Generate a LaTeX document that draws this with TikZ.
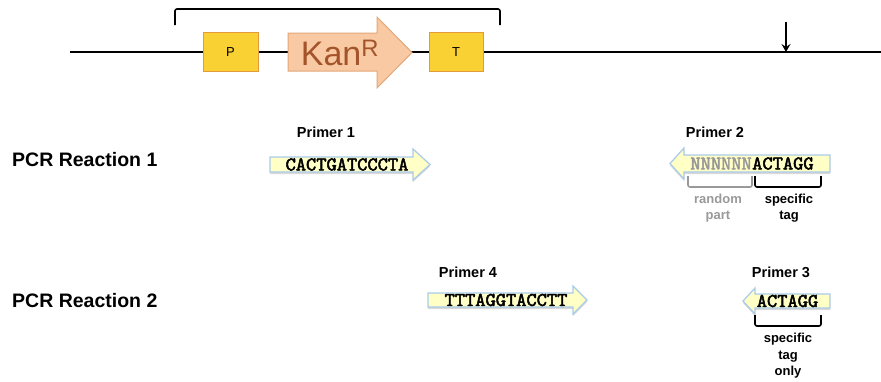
\documentclass[tikz,border=0pt]{standalone}
\usepackage{fontspec}
\setmainfont{Liberation Sans}
\newfontfamily\seqfont[FakeBold=2.5]{lmmono10-regular.otf}
\usetikzlibrary{shadows,arrows.meta}

\definecolor{partfill}{HTML}{F9D133}
\definecolor{partedge}{HTML}{E39A3C}
\definecolor{kanfill}{HTML}{F8C9A2}
\definecolor{kanedge}{HTML}{E2A77A}
\definecolor{kantext}{HTML}{A3542B}
\definecolor{primerfill}{HTML}{FFFFC6}
\definecolor{primeredge}{HTML}{A9CBEA}
\definecolor{randgray}{HTML}{999999}

\tikzset{
  part/.style={draw=partedge,fill=partfill,line width=1pt},
  primer/.style={draw=primeredge,fill=primerfill,line width=1.2pt,
    drop shadow={opacity=0.3,shadow xshift=0pt,shadow yshift=-2pt}},
  seq/.style={font=\seqfont\fontsize{19.5}{19.5}\selectfont,inner sep=0pt},
  primerlabel/.style={font=\bfseries\fontsize{14.5}{15}\selectfont,inner sep=0pt},
  reaction/.style={font=\bfseries\fontsize{19.5}{20}\selectfont,anchor=west,inner sep=0pt},
  note/.style={font=\bfseries\fontsize{13}{16.5}\selectfont,align=center,inner sep=0pt},
  tagbrace/.style={line width=1.6pt,rounded corners=2pt},
}

\begin{document}
\begin{tikzpicture}[x=1pt,y=-1pt]
  \useasboundingbox (0,0) rectangle (881,381);

  % construct
  \draw[line width=1.6pt] (70,52) -- (881,52);
  \draw[line width=1.6pt,rounded corners=2pt] (175,25) -- (175,9) -- (500,9) -- (500,25);
  \draw[line width=1.6pt,-{Stealth[length=8pt,width=9pt,inset=3pt]}] (786,22) -- (786,52);

  \draw[part] (203,32) rectangle (258,71);
  \node[font=\fontsize{13}{13}\selectfont] (prom) at (230.5,52) {P};
  \draw[part] (429,32) rectangle (483,71);
  \node[font=\fontsize{13}{13}\selectfont] (term) at (456,52) {T};

  \draw[draw=kanedge,fill=kanfill,line width=1pt]
        (288,33) -- (377,33) -- (377,17) -- (412,52.5)
        -- (377,88) -- (377,71) -- (288,71) -- cycle;
  \node[text=kantext,font=\fontsize{34}{34}\selectfont,inner sep=0pt] (kan)
        at (340,53) {Kan\textsuperscript{R}};

  % reaction labels
  \node[reaction] (pcr1) at (12,160) {PCR Reaction 1};
  \node[reaction] (pcr2) at (12,301) {PCR Reaction 2};

  % primer 1
  \node[primerlabel] (lab1) at (326,132) {Primer 1};
  \draw[primer] (270,157) -- (413,157) -- (413,149) -- (430,164.5)
        -- (413,180) -- (413,172) -- (270,172) -- cycle;
  \node[seq] (seq1) at (347,164.5) {CACTGATCCCTA};

  % primer 2
  \node[primerlabel] (lab2) at (715,132) {Primer 2};
  \draw[primer] (830,155) -- (684,155) -- (684,148) -- (670,163.5)
        -- (684,179) -- (684,172) -- (830,172) -- cycle;
  \node[seq,text=randgray,anchor=east] (rand2) at (752,163.5) {NNNNNN};
  \node[seq,anchor=west] (tag2) at (752,163.5) {ACTAGG};
  \draw[tagbrace,randgray] (688,176) -- (688,187) -- (752,187) -- (752,176);
  \draw[tagbrace] (755,176) -- (755,187) -- (821,187) -- (821,176);
  \node[note,text=randgray] (randnote) at (718,208) {random\\part};
  \node[note] (tagnote2) at (789,208) {specific\\tag};

  % primer 4
  \node[primerlabel] (lab4) at (468,272) {Primer 4};
  \draw[primer] (428,293) -- (573,293) -- (573,286) -- (587,300)
        -- (573,314) -- (573,307) -- (428,307) -- cycle;
  \node[seq] (seq4) at (506,300) {TTTAGGTACCTT};

  % primer 3
  \node[primerlabel] (lab3) at (781,272) {Primer 3};
  \draw[primer] (830,294) -- (755,294) -- (755,288) -- (743,301)
        -- (755,314) -- (755,308) -- (830,308) -- cycle;
  \node[seq] (seq3) at (787.5,301) {ACTAGG};
  \draw[tagbrace] (755,315) -- (755,326) -- (821,326) -- (821,315);
  \node[note] (tagnote3) at (788,356) {specific\\tag\\only};
\end{tikzpicture}
\end{document}
